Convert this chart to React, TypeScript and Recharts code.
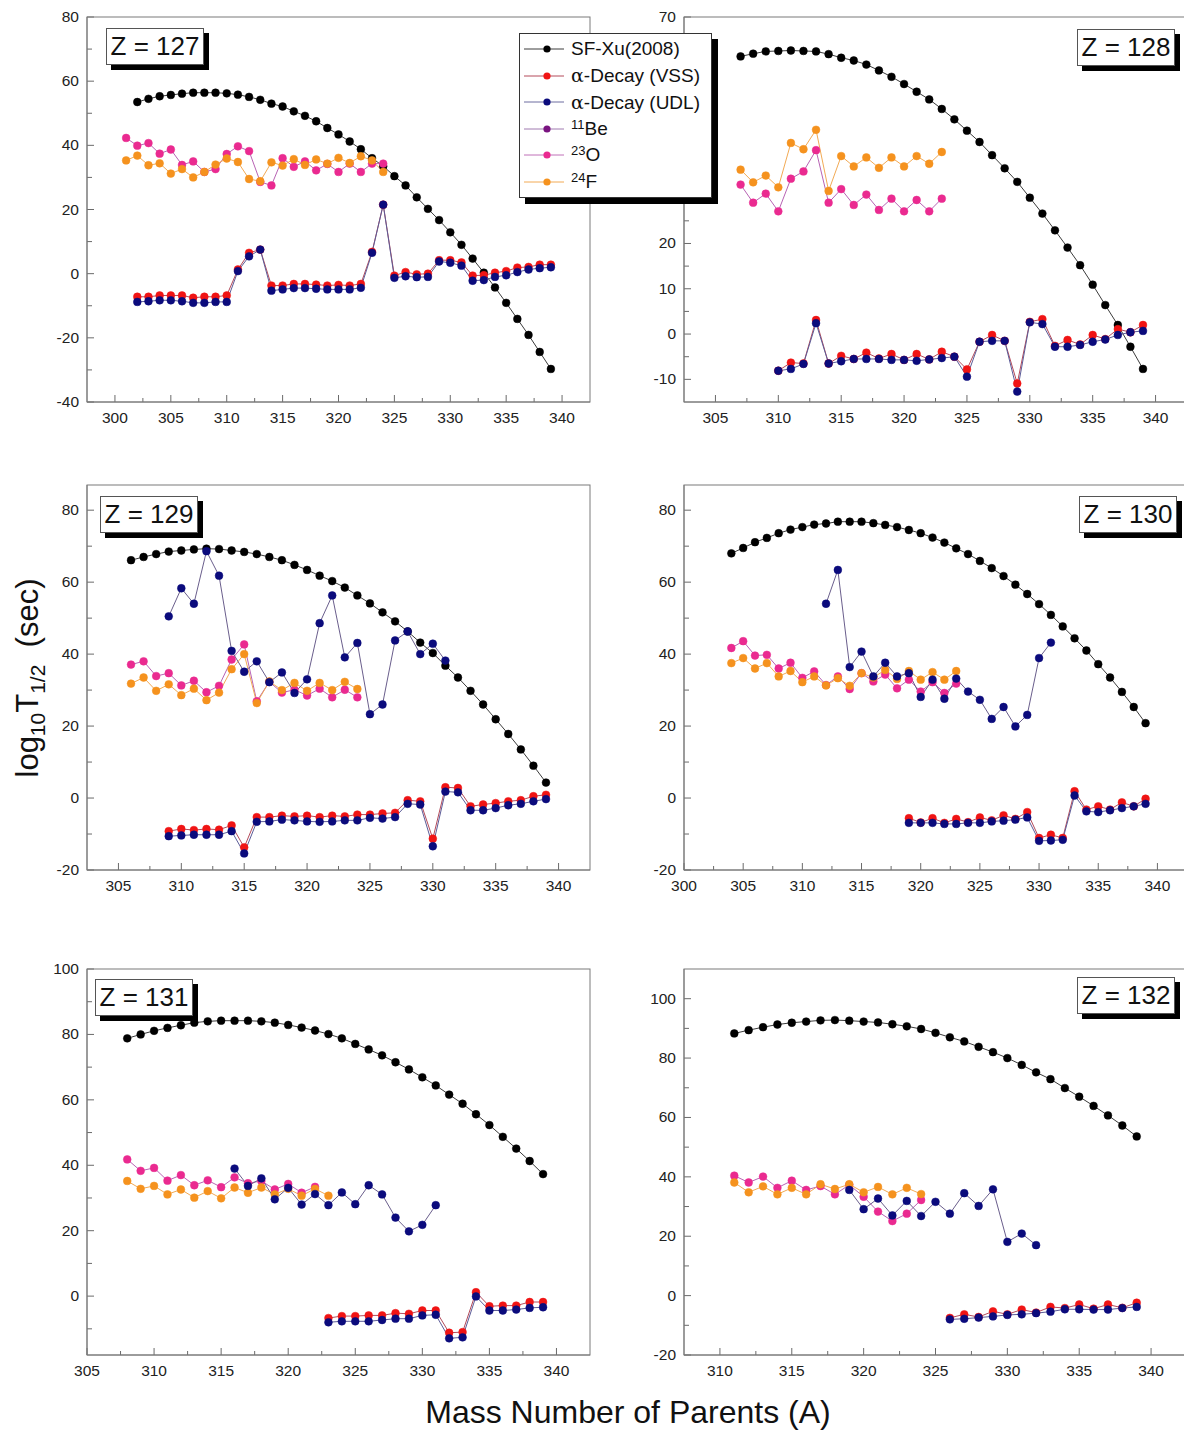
import React from 'react';
import { LineChart, Line, XAxis, YAxis } from 'recharts';

const FONT = '"Liberation Sans", Arial, Helvetica, sans-serif';

// ---------------- DATA ----------------
// Z = 127
const z127SfA0 = 302;
const z127Sf = [53.5, 54.5, 55.3, 55.7, 56.1, 56.4, 56.4, 56.4, 56.2, 55.8, 55.1, 54.2, 53.0, 52.1, 50.6, 49.2, 47.5, 45.4, 43.4, 41.2, 38.8, 36.0, 33.5, 30.4, 27.5, 23.8, 20.2, 16.7, 12.9, 9.0, 4.7, 0.3, -4.3, -9.1, -14.1, -19.1, -24.4, -29.7];
const z127AlphaA0 = 302;
const z127Vss = [-7.2, -7.2, -6.8, -6.8, -6.8, -7.5, -7.2, -7.2, -6.8, 1.3, 6.5, 7.5, -3.7, -3.7, -3.2, -3.2, -3.4, -3.7, -3.5, -3.7, -3.2, 6.8, 21.5, -0.6, 0.5, -0.2, 0.0, 4.2, 4.2, 3.5, -0.6, -0.5, 0.3, 0.8, 1.9, 2.1, 2.8, 2.8];
const z127Udl = [-8.8, -8.6, -8.3, -8.3, -8.6, -9.1, -9.1, -8.8, -8.8, 0.8, 5.4, 7.5, -5.3, -4.9, -4.5, -4.5, -4.7, -4.9, -4.9, -4.9, -4.4, 6.5, 21.5, -1.3, -0.8, -1.1, -1.0, 3.8, 3.4, 2.5, -2.2, -2.0, -1.0, -0.5, 0.5, 1.3, 1.7, 2.0];
const z127ClusterA0 = 301;
const z127O23 = [42.3, 39.9, 40.7, 37.4, 38.7, 33.9, 35.0, 31.7, 32.6, 37.3, 39.7, 38.2, 28.6, 27.5, 36.0, 33.3, 35.0, 32.2, 34.2, 31.7, 34.3, 31.7, 34.3, 34.3];
const z127F24 = [35.3, 36.8, 33.8, 34.4, 31.2, 32.6, 30.0, 31.7, 34.0, 35.9, 34.8, 29.5, 28.8, 34.7, 33.7, 35.7, 33.9, 35.6, 34.3, 36.1, 34.5, 36.6, 35.3, 31.7];

// Z = 128
const z128SfA0 = 307;
const z128Sf = [61.3, 61.9, 62.4, 62.5, 62.6, 62.5, 62.4, 61.8, 61.0, 60.4, 59.5, 58.2, 56.8, 55.2, 53.5, 51.8, 49.7, 47.4, 44.9, 42.4, 39.5, 36.6, 33.6, 30.1, 26.6, 22.9, 19.1, 15.2, 10.9, 6.4, 2.0, -2.8, -7.7];
const z128AlphaA0 = 310;
const z128Vss = [-8.1, -6.3, -6.5, 3.1, -6.5, -4.8, -5.5, -4.1, -5.4, -4.4, -5.7, -4.4, -5.6, -3.9, -5.0, -7.8, -1.7, -0.2, -1.5, -10.9, 2.7, 3.3, -2.6, -1.3, -2.3, -0.2, -1.1, 1.1, 0.4, 2.0];
const z128Udl = [-8.1, -7.7, -6.6, 2.4, -6.5, -6.0, -5.5, -5.5, -5.5, -5.7, -5.7, -5.9, -5.6, -5.3, -5.0, -9.4, -1.7, -1.5, -1.5, -12.7, 2.6, 2.2, -2.8, -2.8, -2.4, -1.7, -1.2, -0.2, 0.4, 0.7];
const z128ClusterA0 = 307;
const z128O23 = [33.0, 29.0, 31.0, 27.1, 34.3, 35.9, 40.6, 29.0, 32.0, 28.5, 30.8, 27.4, 29.9, 27.1, 29.6, 27.1, 29.9];
const z128F24 = [36.3, 33.5, 35.0, 32.4, 42.2, 40.8, 45.1, 31.6, 39.3, 37.0, 39.0, 36.7, 39.0, 37.0, 39.3, 37.6, 40.2];

// Z = 129
const z129SfA0 = 306;
const z129Sf = [66.1, 67.0, 67.8, 68.5, 68.8, 69.1, 69.3, 69.2, 68.8, 68.4, 67.8, 67.0, 66.1, 64.8, 63.4, 61.8, 60.3, 58.5, 56.3, 54.1, 51.6, 49.1, 46.3, 43.2, 40.3, 36.8, 33.5, 29.8, 26.0, 21.9, 17.8, 13.5, 9.0, 4.3];
const z129BeA0 = 309;
const z129Be11 = [50.5, 58.3, 54.0, 68.6, 61.8, 40.9, 35.1, 38.0, 32.2, 34.9, 29.2, 33.0, 48.6, 56.3, 39.1, 43.1, 23.3, 26.0, 43.8, 46.3, 40.0, 42.9, 38.2];
const z129ClusterA0 = 306;
const z129O23 = [37.1, 38.0, 33.9, 34.7, 31.3, 32.6, 29.4, 31.2, 38.5, 42.7, 26.9, 32.3, 29.3, 30.1, 28.5, 30.4, 28.0, 30.1, 28.0];
const z129F24 = [31.8, 33.5, 29.8, 31.6, 28.6, 30.4, 27.2, 29.3, 35.8, 40.0, 26.4, 32.4, 30.0, 32.0, 29.8, 32.0, 30.0, 32.3, 30.3];
const z129AlphaA0 = 309;
const z129Vss = [-9.2, -8.6, -8.9, -8.6, -8.8, -7.6, -13.7, -5.3, -5.3, -4.9, -5.1, -4.9, -5.3, -4.9, -5.1, -4.6, -4.6, -4.3, -4.1, -0.6, -0.9, -11.3, 3.0, 2.8, -2.3, -1.8, -1.4, -0.9, -0.6, 0.5, 0.9];
const z129Udl = [-10.6, -10.4, -10.2, -10.2, -10.2, -9.2, -15.4, -6.6, -6.5, -6.0, -6.2, -6.5, -6.6, -6.5, -6.2, -6.2, -5.5, -5.7, -5.3, -1.6, -1.8, -13.4, 1.8, 1.6, -3.4, -3.4, -2.8, -2.0, -1.6, -0.9, -0.3];

// Z = 130
const z130SfA0 = 304;
const z130Sf = [68.0, 69.5, 71.1, 72.3, 73.6, 74.6, 75.3, 76.0, 76.3, 76.8, 76.8, 76.8, 76.4, 75.9, 75.3, 74.5, 73.6, 72.4, 71.0, 69.4, 67.8, 65.9, 63.9, 61.7, 59.3, 56.7, 53.9, 50.9, 47.7, 44.4, 41.0, 37.2, 33.5, 29.5, 25.3, 20.8];
const z130BeA0 = 312;
const z130Be11 = [54.0, 63.4, 36.4, 40.7, 33.8, 37.6, 33.8, 34.7, 28.1, 32.9, 27.6, 33.2, 29.6, 27.3, 22.0, 25.3, 19.9, 23.1, 38.9, 43.2];
const z130ClusterA0 = 304;
const z130O23 = [41.7, 43.6, 39.6, 39.8, 36.0, 37.6, 33.4, 35.2, 31.4, 33.8, 30.3, 34.7, 32.4, 34.3, 30.5, 32.9, 29.6, 32.2, 29.2, 31.8];
const z130F24 = [37.5, 38.9, 36.0, 37.5, 33.8, 35.3, 32.2, 33.8, 31.3, 33.3, 31.2, 34.7, 33.5, 35.6, 33.1, 35.3, 32.9, 35.0, 32.9, 35.3];
const z130AlphaA0 = 319;
const z130Vss = [-5.6, -6.8, -5.6, -6.9, -5.8, -6.7, -5.4, -6.2, -4.8, -5.8, -3.9, -11.1, -10.2, -11.1, 1.9, -3.2, -2.3, -3.2, -1.2, -2.3, -0.2];
const z130Udl = [-6.9, -6.9, -6.9, -7.2, -7.2, -6.9, -6.9, -6.5, -6.3, -6.0, -5.4, -11.9, -11.8, -11.6, 0.7, -3.7, -3.9, -3.4, -2.8, -2.3, -1.6];

// Z = 131
const z131SfA0 = 308;
const z131Sf = [78.8, 80.0, 81.1, 82.0, 82.8, 83.6, 84.0, 84.2, 84.2, 84.2, 84.0, 83.6, 82.9, 82.1, 81.2, 80.1, 78.8, 77.1, 75.4, 73.6, 71.5, 69.3, 66.9, 64.4, 61.6, 58.8, 55.6, 52.3, 48.7, 45.1, 41.3, 37.3];
const z131BeA0 = 316;
const z131Be11 = [39.0, 33.7, 36.0, 29.6, 33.1, 28.0, 31.2, 27.8, 31.7, 28.1, 33.9, 31.1, 24.0, 19.8, 21.8, 27.8];
const z131ClusterA0 = 308;
const z131O23 = [41.8, 38.3, 39.2, 35.3, 37.0, 33.9, 35.4, 33.3, 36.3, 34.5, 35.2, 32.6, 34.3, 31.6, 33.4];
const z131F24 = [35.2, 32.8, 33.7, 31.1, 32.6, 30.1, 32.1, 29.9, 33.2, 31.6, 33.2, 31.1, 32.8, 30.7, 32.8, 30.7];
const z131AlphaA0 = 323;
const z131Vss = [-6.7, -6.1, -6.1, -5.9, -5.9, -5.2, -5.4, -4.4, -4.4, -11.2, -11.0, 1.2, -3.1, -2.9, -2.9, -1.8, -1.8];
const z131Udl = [-8.0, -7.7, -7.7, -7.7, -7.3, -6.9, -6.9, -5.9, -5.7, -12.9, -12.6, -0.1, -4.4, -4.4, -4.1, -3.6, -3.4];

// Z = 132
const z132SfA0 = 311;
const z132Sf = [88.3, 89.4, 90.4, 91.3, 91.9, 92.3, 92.7, 92.8, 92.6, 92.3, 92.0, 91.4, 90.7, 89.8, 88.5, 87.0, 85.6, 83.8, 82.0, 80.0, 77.7, 75.2, 72.9, 69.9, 67.0, 63.9, 60.7, 57.3, 53.6];
const z132BeA0 = 319;
const z132Be11 = [35.6, 29.1, 32.7, 27.0, 31.9, 26.8, 31.6, 27.6, 34.5, 30.2, 35.8, 18.1, 20.9, 17.0];
const z132ClusterA0 = 311;
const z132O23 = [40.4, 38.1, 40.1, 36.3, 38.7, 35.6, 36.9, 34.1, 37.3, 33.3, 28.3, 25.1, 27.6, 32.2];
const z132F24 = [38.1, 34.8, 36.8, 34.1, 36.3, 34.1, 37.5, 35.9, 37.5, 34.8, 36.6, 34.1, 36.3, 34.2];
const z132AlphaA0 = 326;
const z132Vss = [-7.5, -6.3, -7.2, -5.3, -6.3, -4.7, -5.7, -3.8, -4.2, -3.0, -4.4, -3.0, -4.1, -2.4];
const z132Udl = [-8.0, -7.8, -7.4, -7.0, -6.5, -6.3, -5.9, -5.4, -4.6, -4.6, -4.7, -4.7, -4.2, -3.8];

// Tick labels
const xLabels127 = [300, 305, 310, 315, 320, 325, 330, 335, 340];
const xLabels128 = [305, 310, 315, 320, 325, 330, 335, 340];
const xLabels129 = [305, 310, 315, 320, 325, 330, 335, 340];
const xLabels130 = [300, 305, 310, 315, 320, 325, 330, 335, 340];
const xLabels131 = [305, 310, 315, 320, 325, 330, 335, 340];
const xLabels132 = [310, 315, 320, 325, 330, 335, 340];
const yLabels127 = [-40, -20, 0, 20, 40, 60, 80];
const yLabels128 = [-10, 0, 10, 20, 30, 40, 50, 60, 70];
const yHidden128 = [30, 40, 50, 60]; // covered by the legend box in the original
const yLabels129 = [-20, 0, 20, 40, 60, 80];
const yLabels130 = [-20, 0, 20, 40, 60, 80];
const yLabels131 = [0, 20, 40, 60, 80, 100];
const yLabels132 = [-20, 0, 20, 40, 60, 80, 100];

// Legend
const legendNames = ['SF-Xu(2008)', 'α-Decay (VSS)', 'α-Decay (UDL)', '11Be', '23O', '24F'];

// ---------------- STYLE ----------------
const STYLE: Record<string, { dot: string; line: string }> = {
  sf: { dot: '#000000', line: '#3c3c3c' },
  vss: { dot: '#f01414', line: '#b44a5a' },
  udl: { dot: '#0b0b7c', line: '#5c5c98' },
  be: { dot: '#0b0b7c', line: '#6a5e8c' },
  o: { dot: '#ea2a90', line: '#b863b4' },
  f: { dot: '#f5921e', line: '#f2aa55' },
};
const LEGEND_STYLE = [
  { dot: '#000000', line: '#3c3c3c' },
  { dot: '#f01414', line: '#b44a5a' },
  { dot: '#0b0b7c', line: '#6c6ca0' },
  { dot: '#7a1480', line: '#a07ab0' },
  { dot: '#ea2a90', line: '#c070b8' },
  { dot: '#f5921e', line: '#f2aa55' },
];

type SeriesSpec = [string, number, number[]];
interface PanelDef {
  z: number;
  left: number;
  top: number;
  w: number;
  h: number;
  xDomain: [number, number];
  yDomain: [number, number];
  xLabels: number[];
  yLabels: number[];
  yHidden?: number[];
  box: [number, number];
  series: SeriesSpec[];
}

const PANELS: PanelDef[] = [
  {
    z: 127, left: 87, top: 17, w: 503, h: 385, xDomain: [297.5, 342.5], yDomain: [-40, 80],
    xLabels: xLabels127, yLabels: yLabels127, box: [106, 28],
    series: [['sf', z127SfA0, z127Sf], ['vss', z127AlphaA0, z127Vss], ['udl', z127AlphaA0, z127Udl], ['o', z127ClusterA0, z127O23], ['f', z127ClusterA0, z127F24]],
  },
  {
    z: 128, left: 684, top: 17, w: 503, h: 385, xDomain: [302.5, 342.5], yDomain: [-15, 70],
    xLabels: xLabels128, yLabels: yLabels128, yHidden: yHidden128, box: [1077, 29],
    series: [['sf', z128SfA0, z128Sf], ['vss', z128AlphaA0, z128Vss], ['udl', z128AlphaA0, z128Udl], ['o', z128ClusterA0, z128O23], ['f', z128ClusterA0, z128F24]],
  },
  {
    z: 129, left: 87, top: 485, w: 503, h: 385, xDomain: [302.5, 342.5], yDomain: [-20, 87],
    xLabels: xLabels129, yLabels: yLabels129, box: [100, 496],
    series: [['sf', z129SfA0, z129Sf], ['vss', z129AlphaA0, z129Vss], ['udl', z129AlphaA0, z129Udl], ['o', z129ClusterA0, z129O23], ['f', z129ClusterA0, z129F24], ['be', z129BeA0, z129Be11]],
  },
  {
    z: 130, left: 684, top: 485, w: 503, h: 385, xDomain: [300, 342.5], yDomain: [-20, 87],
    xLabels: xLabels130, yLabels: yLabels130, box: [1079, 496],
    series: [['sf', z130SfA0, z130Sf], ['vss', z130AlphaA0, z130Vss], ['udl', z130AlphaA0, z130Udl], ['o', z130ClusterA0, z130O23], ['f', z130ClusterA0, z130F24], ['be', z130BeA0, z130Be11]],
  },
  {
    z: 131, left: 87, top: 969, w: 503, h: 386, xDomain: [305, 342.5], yDomain: [-18, 100],
    xLabels: xLabels131, yLabels: yLabels131, box: [95, 979],
    series: [['sf', z131SfA0, z131Sf], ['vss', z131AlphaA0, z131Vss], ['udl', z131AlphaA0, z131Udl], ['o', z131ClusterA0, z131O23], ['f', z131ClusterA0, z131F24], ['be', z131BeA0, z131Be11]],
  },
  {
    z: 132, left: 684, top: 969, w: 503, h: 386, xDomain: [307.5, 342.5], yDomain: [-20, 110],
    xLabels: xLabels132, yLabels: yLabels132, box: [1077, 977],
    series: [['sf', z132SfA0, z132Sf], ['vss', z132AlphaA0, z132Vss], ['udl', z132AlphaA0, z132Udl], ['o', z132ClusterA0, z132O23], ['f', z132ClusterA0, z132F24], ['be', z132BeA0, z132Be11]],
  },
];

// ---------------- HELPERS ----------------
function buildTable(series: SeriesSpec[]) {
  const rows: Record<number, any> = {};
  series.forEach(([key, a0, vals]) => {
    vals.forEach((v, i) => {
      const a = a0 + i;
      if (!rows[a]) rows[a] = { a };
      rows[a][key] = v;
    });
  });
  return Object.keys(rows).map(Number).sort((p, q) => p - q).map((k) => rows[k]);
}

function allTicks(labels: number[], domain: [number, number]) {
  const half = (labels[1] - labels[0]) / 2;
  const eps = 1e-6;
  const out: number[] = [];
  for (let n = -20; n <= 40; n++) {
    const t = labels[0] + n * half;
    const isMajor = labels.some((l) => Math.abs(l - t) < eps);
    if (isMajor) out.push(t);
    else if (t > domain[0] + eps && t < domain[1] - eps) out.push(t);
  }
  return out;
}

const ML = 50;
const MT = 10;
const TICK_COLOR = '#6a6a6a';
const AXIS_COLOR = '#7a7a7a';

function Panel({ p }: { p: PanelDef }) {
  const W = p.w + ML + 10;
  const H = p.h + MT + 30;
  const data = buildTable(p.series);
  const xt = allTicks(p.xLabels, p.xDomain);
  const yt = allTicks(p.yLabels, p.yDomain);
  const plotBottom = MT + p.h;
  const inList = (arr: number[] | undefined, v: number) => !!arr && arr.some((l) => Math.abs(l - v) < 1e-6);

  const XTick = (props: any) => {
    const { x, payload } = props;
    const major = inList(p.xLabels, payload.value);
    return (
      <g>
        <line x1={x} x2={x} y1={plotBottom} y2={plotBottom - (major ? 7 : 4)} stroke={TICK_COLOR} strokeWidth={1} />
        {major && (
          <text x={x} y={plotBottom + 21} textAnchor="middle" fontSize={15.5} fill="#222" fontFamily={FONT}>
            {payload.value}
          </text>
        )}
      </g>
    );
  };
  const YTick = (props: any) => {
    const { y, payload } = props;
    const major = inList(p.yLabels, payload.value);
    const showLabel = major && !inList(p.yHidden, payload.value);
    return (
      <g>
        <line x1={ML} x2={ML + (major ? 7 : 5)} y1={y} y2={y} stroke={TICK_COLOR} strokeWidth={1} />
        {showLabel && (
          <text x={ML - 8} y={y + 5} textAnchor="end" fontSize={15.5} fill="#222" fontFamily={FONT}>
            {payload.value}
          </text>
        )}
      </g>
    );
  };

  return (
    <div style={{ position: 'absolute', left: p.left - ML, top: p.top - MT, width: W, height: H }}>
      <LineChart width={W} height={H} data={data} margin={{ top: MT, right: 10, bottom: 0, left: 0 }}>
        <XAxis
          type="number"
          dataKey="a"
          domain={p.xDomain}
          ticks={xt}
          interval={0}
          allowDataOverflow
          height={30}
          tickLine={false}
          axisLine={{ stroke: AXIS_COLOR }}
          tick={<XTick />}
        />
        <YAxis
          type="number"
          domain={p.yDomain}
          ticks={yt}
          interval={0}
          allowDataOverflow
          width={ML}
          tickLine={false}
          axisLine={{ stroke: AXIS_COLOR }}
          tick={<YTick />}
        />
        {p.series.map(([key]) => (
          <Line
            key={key}
            dataKey={key}
            type="linear"
            stroke={STYLE[key].line}
            strokeWidth={1}
            dot={{ r: 3.9, fill: STYLE[key].dot, stroke: STYLE[key].dot, strokeWidth: 0.5 }}
            activeDot={false}
            isAnimationActive={false}
            connectNulls={false}
          />
        ))}
      </LineChart>
      <div
        style={{
          position: 'absolute',
          left: ML,
          top: MT,
          width: p.w + 1,
          height: p.h + 1,
          border: `1px solid ${AXIS_COLOR}`,
          boxSizing: 'border-box',
          pointerEvents: 'none',
          transform: 'translate(-0.5px,-0.5px)',
        }}
      />
    </div>
  );
}

function ZBox({ z, pos }: { z: number; pos: [number, number] }) {
  return (
    <div
      style={{
        position: 'absolute',
        left: pos[0],
        top: pos[1],
        width: 98,
        height: 37,
        border: '1px solid #555',
        background: '#fff',
        boxShadow: '5px 5px 0 #000',
        boxSizing: 'border-box',
        fontFamily: FONT,
        fontSize: 26,
        lineHeight: '35px',
        textAlign: 'center',
        color: '#111',
        whiteSpace: 'pre',
      }}
    >
      {`Z = ${z}`}
    </div>
  );
}

function LegendLabel({ name }: { name: string }) {
  if (name.startsWith('α')) {
    return (
      <span>
        <span style={{ fontFamily: '"DejaVu Serif", "Liberation Serif", serif', fontSize: 19 }}>α</span>
        {name.slice(1)}
      </span>
    );
  }
  const m = name.match(/^(\d+)([A-Za-z]+)$/);
  if (m) {
    return (
      <span>
        <sup style={{ fontSize: 13, verticalAlign: 'top', position: 'relative', top: -1 }}>{m[1]}</sup>
        {m[2]}
      </span>
    );
  }
  return <span>{name}</span>;
}

function Legend() {
  return (
    <div
      style={{
        position: 'absolute',
        left: 519,
        top: 33,
        width: 193,
        height: 165,
        border: '1px solid #333',
        background: '#fff',
        boxShadow: '6px 6px 0 #000',
        boxSizing: 'border-box',
        fontFamily: FONT,
        fontSize: 19,
        color: '#111',
      }}
    >
      {legendNames.map((n, i) => (
        <div key={n} style={{ position: 'absolute', left: 0, top: 2 + i * 26.6, height: 26, display: 'flex', alignItems: 'center' }}>
          <svg width={48} height={26} style={{ display: 'block' }}>
            <line x1={4} x2={44} y1={13} y2={13} stroke={LEGEND_STYLE[i].line} strokeWidth={1} />
            <circle cx={27} cy={13} r={3.6} fill={LEGEND_STYLE[i].dot} />
          </svg>
          <div style={{ marginLeft: 3, whiteSpace: 'nowrap' }}>
            <LegendLabel name={n} />
          </div>
        </div>
      ))}
    </div>
  );
}

export default function App() {
  return (
    <div
      style={{
        position: 'absolute',
        left: 0,
        top: 0,
        width: 1184,
        height: 1432,
        overflow: 'hidden',
        background: '#fff',
        fontFamily: FONT,
      }}
    >
      {PANELS.map((p) => (
        <Panel key={p.z} p={p} />
      ))}
      {PANELS.map((p) => (
        <ZBox key={`z${p.z}`} z={p.z} pos={p.box} />
      ))}
      <Legend />
      <div
        style={{
          position: 'absolute',
          left: 30,
          top: 678,
          transform: 'translate(-50%, -50%) rotate(-90deg)',
          fontFamily: FONT,
          fontSize: 31,
          color: '#111',
          whiteSpace: 'pre',
        }}
      >
        log<sub style={{ fontSize: 21 }}>10</sub>T<sub style={{ fontSize: 21 }}>1/2</sub>{'  (sec)'}
      </div>
      <div
        style={{
          position: 'absolute',
          left: 0,
          width: 1256,
          top: 1394,
          textAlign: 'center',
          fontFamily: FONT,
          fontSize: 32,
          color: '#111',
          whiteSpace: 'pre',
        }}
      >
        Mass Number of Parents (A)
      </div>
    </div>
  );
}
